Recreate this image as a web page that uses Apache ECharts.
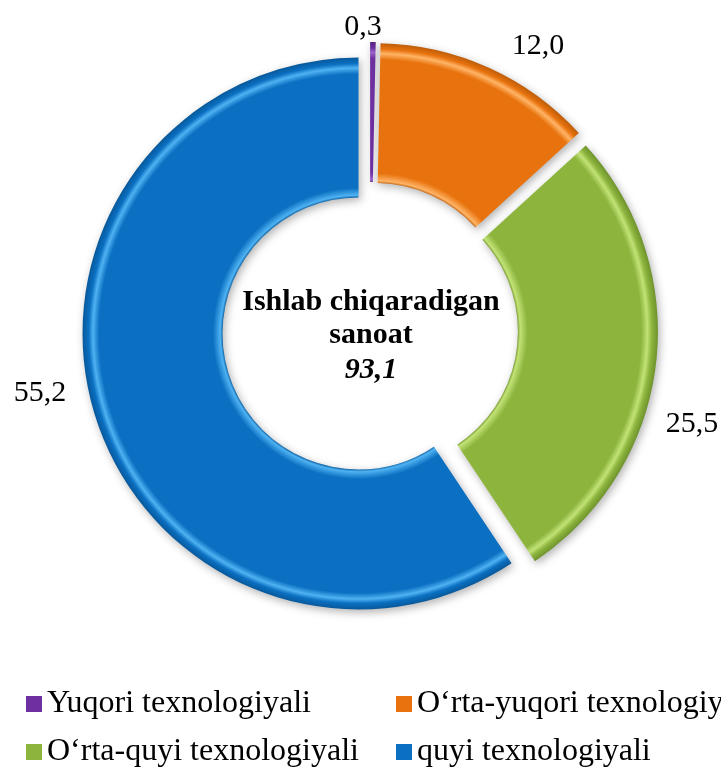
<!DOCTYPE html>
<html><head><meta charset="utf-8">
<script src="https://cdn.jsdelivr.net/npm/echarts@6/dist/echarts.min.js"></script>
<style>html,body{margin:0;padding:0;background:#fff}#c{width:721px;height:769px}</style>
</head><body><div id="c"></div>
<script>
// ---- data ----
const categories = ['Yuqori texnologiyali', 'O‘rta-yuqori texnologiyali', 'O‘rta-quyi texnologiyali', 'quyi texnologiyali'];
const values = [0.3, 12.0, 25.5, 55.2];
const labelTexts = ['0,3', '12,0', '25,5', '55,2'];
const centerTitle = ['Ishlab chiqaradigan', 'sanoat'];
const centerValue = '93,1';

// ---- styles / layout ----
const FONT = "'Liberation Serif', 'Times New Roman', serif";
const CX = 370, CY = 330, R_OUT = 276, R_IN = 136;
const palette = [
  { base: '#6E2FA0', light: '#9A63C8', dark: '#55237E' },
  { base: '#E8730E', light: '#FFB466', dark: '#BD5C08' },
  { base: '#8DB53E', light: '#C2E276', dark: '#6E922C' },
  { base: '#0B70C2', light: '#4FB2F2', dark: '#07589A' }
];
const labelPos = [[363, 27], [538, 46], [692, 424], [40, 393]];
const legendPos = [[26, 688], [396, 688], [26, 736], [396, 736]];

function ringGradient(c) {
  const k = R_IN / R_OUT;
  return {
    type: 'radial', x: CX, y: CY, r: R_OUT, global: true,
    colorStops: [
      { offset: 0, color: c.dark },
      { offset: k - 0.002, color: c.dark },
      { offset: k + 0.008, color: c.light },
      { offset: k + 0.035, color: c.base },
      { offset: 0.94, color: c.base },
      { offset: 0.962, color: c.light },
      { offset: 0.978, color: c.base },
      { offset: 1, color: c.dark }
    ]
  };
}

const sliceData = categories.map((name, i) => ({
  name: name,
  value: values[i],
  selected: true,
  itemStyle: { color: ringGradient(palette[i]) }
}));
const labelData = categories.map((name, i) => ({ name: name, value: values[i] }));

const legends = categories.map((name, i) => ({
  data: [{ name: name, itemStyle: { color: palette[i].base } }],
  left: legendPos[i][0], top: legendPos[i][1],
  padding: 0,
  icon: 'rect', itemWidth: 16, itemHeight: 16,
  selectedMode: false,
  textStyle: { fontFamily: FONT, fontSize: 32, color: '#000' }
}));

const chart = echarts.init(document.getElementById('c'), null, { renderer: 'canvas' });
chart.setOption({
  animation: false,
  backgroundColor: '#fff',
  legend: legends,
  series: [{
    type: 'pie',
    center: [CX, CY],
    radius: [R_IN, R_OUT],
    startAngle: 90,
    clockwise: true,
    selectedMode: 'multiple',
    selectedOffset: 12,
    emphasis: { disabled: true },
    itemStyle: {
      borderWidth: 0,
      shadowBlur: 8, shadowColor: 'rgba(0,0,0,0.3)', shadowOffsetX: 2, shadowOffsetY: 3
    },
    select: { itemStyle: { borderWidth: 0 } },
    label: { show: false },
    labelLine: { show: false },
    data: sliceData
  }, {
    // carries the value labels (not exploded)
    type: 'pie',
    center: [CX, CY],
    radius: [R_IN, R_OUT],
    startAngle: 90,
    clockwise: true,
    silent: true,
    selectedMode: false,
    avoidLabelOverlap: false,
    emphasis: { disabled: true },
    itemStyle: { color: 'rgba(0,0,0,0)', borderWidth: 0 },
    label: {
      show: true, position: 'outside',
      formatter: p => labelTexts[p.dataIndex],
      fontFamily: FONT, fontSize: 30, color: '#000'
    },
    labelLine: { show: false },
    labelLayout: p => ({ x: labelPos[p.dataIndex][0], y: labelPos[p.dataIndex][1], align: 'center', verticalAlign: 'middle' }),
    data: labelData
  }],
  graphic: [{
    type: 'text', x: CX + 1, y: 337, silent: true,
    style: {
      text: '{t|' + centerTitle[0] + '}\n{t|' + centerTitle[1] + '}\n{v|' + centerValue + '}',
      align: 'center', verticalAlign: 'middle',
      rich: {
        t: { fontFamily: FONT, fontWeight: 'bold', fontSize: 30, lineHeight: 33, align: 'center', fill: '#000' },
        v: { fontFamily: FONT, fontWeight: 'bold', fontStyle: 'italic', fontSize: 30, lineHeight: 36, align: 'center', fill: '#000' }
      }
    }
  }]
});
</script></body></html>
